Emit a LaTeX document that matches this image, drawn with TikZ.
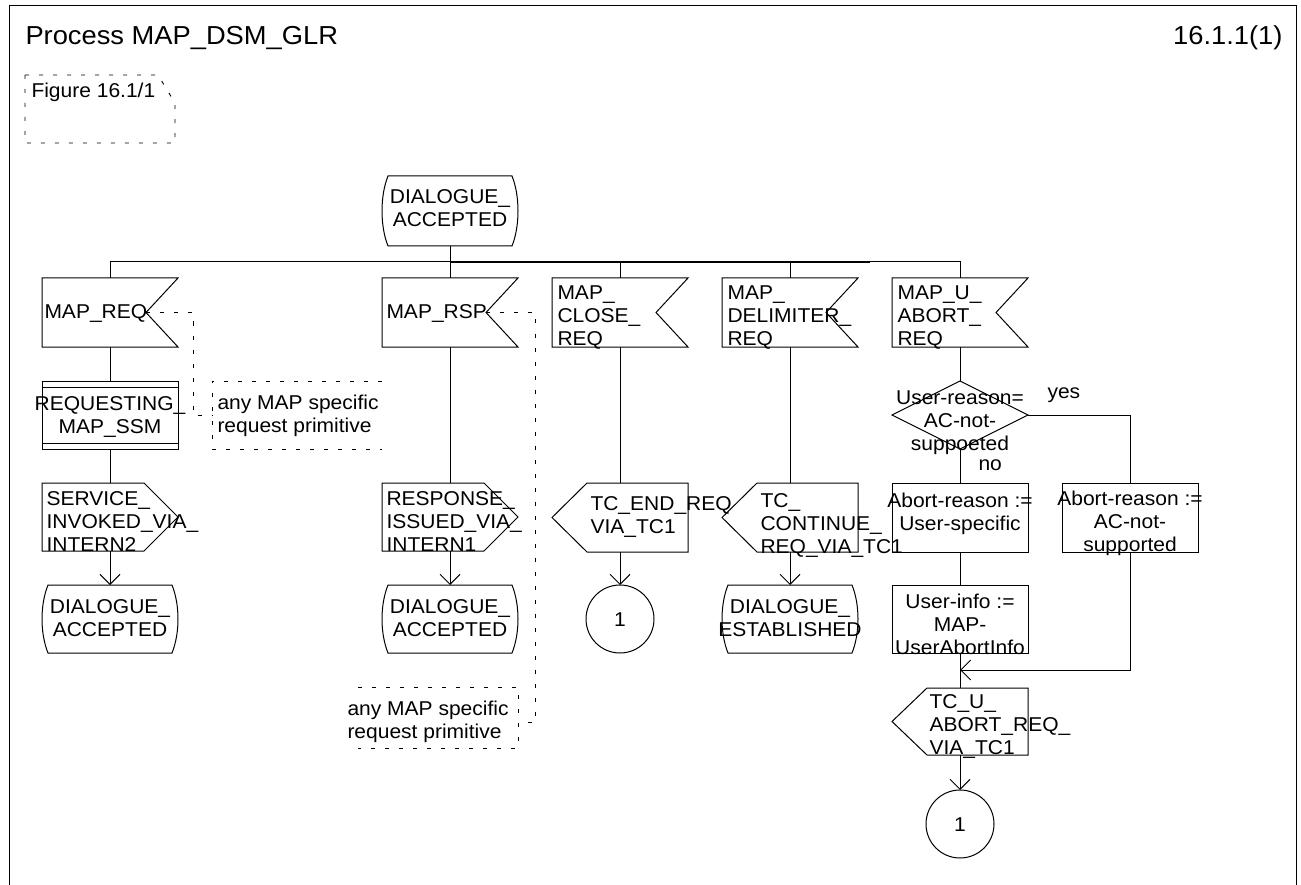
\documentclass[tikz,border=0pt]{standalone}
\usepackage{graphicx}
\usepackage{fontspec}
\setmainfont{Liberation Sans}
\usetikzlibrary{calc,arrows.meta}
\newcommand\SXf{1.05}
\newcommand\LT[1]{\scalebox{\SXf}[1]{\begin{tabular}[t]{@{}l@{}}#1\end{tabular}}}
\newcommand\CT[1]{\scalebox{\SXf}[1]{\begin{tabular}[t]{@{}c@{}}#1\end{tabular}}}
\newcommand\SDLstate[1]{\draw ($(#1.north west)+(6,0)$) -- ($(#1.north east)+(-6,0)$) .. controls ($(#1.north east)+(2,20)$) and ($(#1.south east)+(2,-20)$) .. ($(#1.south east)+(-6,0)$) -- ($(#1.south west)+(6,0)$) .. controls ($(#1.south west)+(-2,-20)$) and ($(#1.north west)+(-2,20)$) .. ($(#1.north west)+(6,0)$) -- cycle;}
\newcommand\SDLin[1]{\draw (#1.north west) -- (#1.north east) -- ($(#1.east)+(-32,0)$) -- (#1.south east) -- (#1.south west) -- cycle;}
\newcommand\SDLoutR[1]{\draw (#1.north west) -- ($(#1.north east)+(-34,0)$) -- (#1.east) -- ($(#1.south east)+(-34,0)$) -- (#1.south west) -- cycle;}
\newcommand\SDLoutL[1]{\draw ($(#1.north west)+(35,0)$) -- (#1.north east) -- (#1.south east) -- ($(#1.south west)+(35,0)$) -- (#1.west) -- cycle;}
\newcommand\SDLproc[1]{\draw (#1.north west) rectangle (#1.south east); \draw ($(#1.north west)+(0,6)$) -- ($(#1.north east)+(0,6)$); \draw ($(#1.south west)+(0,-6)$) -- ($(#1.south east)+(0,-6)$);}
\begin{document}
\begin{tikzpicture}[x=1pt,y=-1pt,line width=1pt,
  shp/.style={inner sep=0pt,outer sep=0pt,minimum width=136pt,minimum height=68pt},
  task/.style={shp,draw},
  conn/.style={circle,draw,inner sep=0pt,outer sep=0pt,minimum size=68pt},
  lt/.style={inner sep=0pt,anchor=base west,font=\fontsize{20}{23}\selectfont},
  ct/.style={inner sep=0pt,anchor=base,font=\fontsize{20}{23}\selectfont},
  cmt/.style={dash pattern=on 4pt off 10pt,line width=0.9pt},
  arr/.style={-{Straight Barb[length=10pt,width=20pt]}}]
\useasboundingbox (0,0) rectangle (1301,885);
% frame
\draw (9,885) -- (9,6) -- (1296,6) -- (1296,885);
\node[inner sep=0pt,anchor=base west,font=\fontsize{26}{30}\selectfont] (title) at (25,45) {\LT{Process MAP\_DSM\_GLR}};
\node[inner sep=0pt,anchor=base east,font=\fontsize{26}{30}\selectfont] (pageno) at (1283,45) {\LT{16.1.1(1)}};
% figure comment
\node[inner sep=0pt,outer sep=0pt,minimum width=150pt,minimum height=68pt] (fig) at (100,109) {};
\draw[cmt] (fig.north west) -- ($(fig.north east)+(-17,0)$) -- ($(fig.north east)+(0,28)$) -- (fig.south east) -- (fig.south west) -- cycle;
\node[lt] (tfig) at (31,98) {\LT{Figure 16.1/1}};
% start state
\node[shp,minimum height=70pt] (top0) at (450,211) {};
\SDLstate{top0}
\node[ct] (ttop0) at (450,204) {\CT{DIALOGUE\_\\ACCEPTED}};
\coordinate (bus) at (450,262);
\coordinate (busr) at (870,262);
% column 1
\node[shp,minimum height=69pt] (req) at (110,312.5) {};
\SDLin{req}
\node[lt] (treq) at (44,319) {\LT{MAP\_REQ}};
\node[shp] (reqssm) at (110,415) {};
\SDLproc{reqssm}
\node[ct] (treqssm) at (110,410) {\CT{REQUESTING\_\\MAP\_SSM}};
\node[shp] (svc) at (110,517) {};
\SDLoutR{svc}
\node[lt] (tsvc) at (46,505) {\LT{SERVICE\_\\INVOKED\_VIA\_\\INTERN2}};
\node[shp] (acc1) at (110,619) {};
\SDLstate{acc1}
\node[ct] (tacc1) at (110,613) {\CT{DIALOGUE\_\\ACCEPTED}};
% comment 1
\node[inner sep=0pt,outer sep=0pt,minimum width=170pt,minimum height=68pt] (c1) at (297,415) {};
\draw[cmt] (c1.north east) -- (c1.north west) -- (c1.south west) -- (c1.south east);
\node[lt] (tc1) at (217,409) {\LT{any MAP specific\\request primitive}};
% column 2
\node[shp,minimum height=69pt] (rsp) at (450,312.5) {};
\SDLin{rsp}
\node[lt] (trsp) at (386,319) {\LT{MAP\_RSP}};
\node[shp] (resp) at (450,517) {};
\SDLoutR{resp}
\node[lt] (tresp) at (386,505) {\LT{RESPONSE\_\\ISSUED\_VIA\_\\INTERN1}};
\node[shp] (acc2) at (450,619) {};
\SDLstate{acc2}
\node[ct] (tacc2) at (450,613) {\CT{DIALOGUE\_\\ACCEPTED}};
% comment 2
\node[inner sep=0pt,outer sep=0pt,minimum width=160pt,minimum height=61pt] (c2) at (438,717.5) {};
\draw[cmt] (c2.north west) -- (c2.north east) -- (c2.south east) -- (c2.south west);
\node[lt] (tc2) at (347,715) {\LT{any MAP specific\\request primitive}};
% column 3
\node[shp,minimum height=69pt] (close) at (620,312.5) {};
\SDLin{close}
\node[lt] (tclose) at (557,300) {\LT{MAP\_\\CLOSE\_\\REQ}};
\node[shp,minimum height=69pt] (tcend) at (620,517.5) {};
\SDLoutL{tcend}
\node[lt] (ttcend) at (590,510) {\LT{TC\_END\_REQ\\VIA\_TC1}};
\node[conn] (con1) at (620,619) {};
\node[ct] (tcon1) at (620,626) {\CT{1}};
% column 4
\node[shp,minimum height=69pt] (delim) at (790,312.5) {};
\SDLin{delim}
\node[lt] (tdelim) at (727,300) {\LT{MAP\_\\DELIMITER\_\\REQ}};
\node[shp,minimum height=69pt] (tccont) at (790,517.5) {};
\SDLoutL{tccont}
\node[lt] (ttccont) at (760,507) {\LT{TC\_\\CONTINUE\_\\REQ\_VIA\_TC1}};
\node[shp] (est) at (790,619) {};
\SDLstate{est}
\node[ct] (test) at (790,613) {\CT{DIALOGUE\_\\ESTABLISHED}};
% column 5
\node[shp,minimum height=69pt] (abort) at (960,312.5) {};
\SDLin{abort}
\node[lt] (tabort) at (897,300) {\LT{MAP\_U\_\\ABORT\_\\REQ}};
\node[shp] (dec) at (960,415) {};
\draw (dec.north) -- (dec.east) -- (dec.south) -- (dec.west) -- cycle;
\node[ct] (tdec) at (960,404) {\CT{User-reason=\\AC-not-\\suppoeted}};
\node[lt] (tyes) at (1047,398) {\LT{yes}};
\node[lt] (tno) at (978,470) {\LT{no}};
\node[task,minimum height=69pt] (usr) at (960,517.5) {};
\node[ct] (tusr) at (960,507) {\CT{Abort-reason :=\\User-specific}};
\node[task,minimum height=69pt] (ac) at (1130,517.5) {};
\node[ct] (tac) at (1130,505) {\CT{Abort-reason :=\\AC-not-\\supported}};
\node[task] (uinfo) at (960,619) {};
\node[ct] (tuinfo) at (960,608) {\CT{User-info :=\\MAP-\\UserAbortInfo}};
\coordinate (join) at (960,670);
\node[shp,minimum height=67pt] (tcuab) at (960,721.5) {};
\SDLoutL{tcuab}
\node[lt] (ttcuab) at (929,708) {\LT{TC\_U\_\\ABORT\_REQ\_\\VIA\_TC1}};
\node[conn] (con2) at (960,824) {};
\node[ct] (tcon2) at (960,831) {\CT{1}};
% connectors
\draw (top0.south) -- (bus);
\draw (bus) -| (req.north);
\draw (bus) -- (rsp.north);
\draw (bus) -| (close.north);
\draw (bus) -| (delim.north);
\draw (bus) -| (abort.north);
\draw[line width=2.2pt] (bus) -- (busr);
\draw (req.south) -- (reqssm.north);
\draw (reqssm.south) -- (svc.north);
\draw[arr] (svc.south) -- (acc1.north);
\draw (rsp.south) -- (resp.north);
\draw[arr] (resp.south) -- (acc2.north);
\draw (close.south) -- (tcend.north);
\draw[arr] (tcend.south) -- (con1.north);
\draw (delim.south) -- (tccont.north);
\draw[arr] (tccont.south) -- (est.north);
\draw (abort.south) -- (dec.north);
\draw (dec.south) -- (usr.north);
\draw (dec.east) -| (ac.north);
\draw (usr.south) -- (uinfo.north);
\draw (uinfo.south) -- (tcuab.north);
\draw[arr] (ac.south) |- (join);
\draw[arr] (tcuab.south) -- (con2.north);
% comment connectors
\coordinate (reqn) at ($(req.east)+(-32,0)$);
\coordinate (rspn) at ($(rsp.east)+(-32,0)$);
\draw[cmt] (reqn) -- ++(47,0) |- (c1.west);
\draw[cmt] (rspn) -- ++(49,0) |- ($(c2.east)+(0,4.5)$);
\end{tikzpicture}
\end{document}
